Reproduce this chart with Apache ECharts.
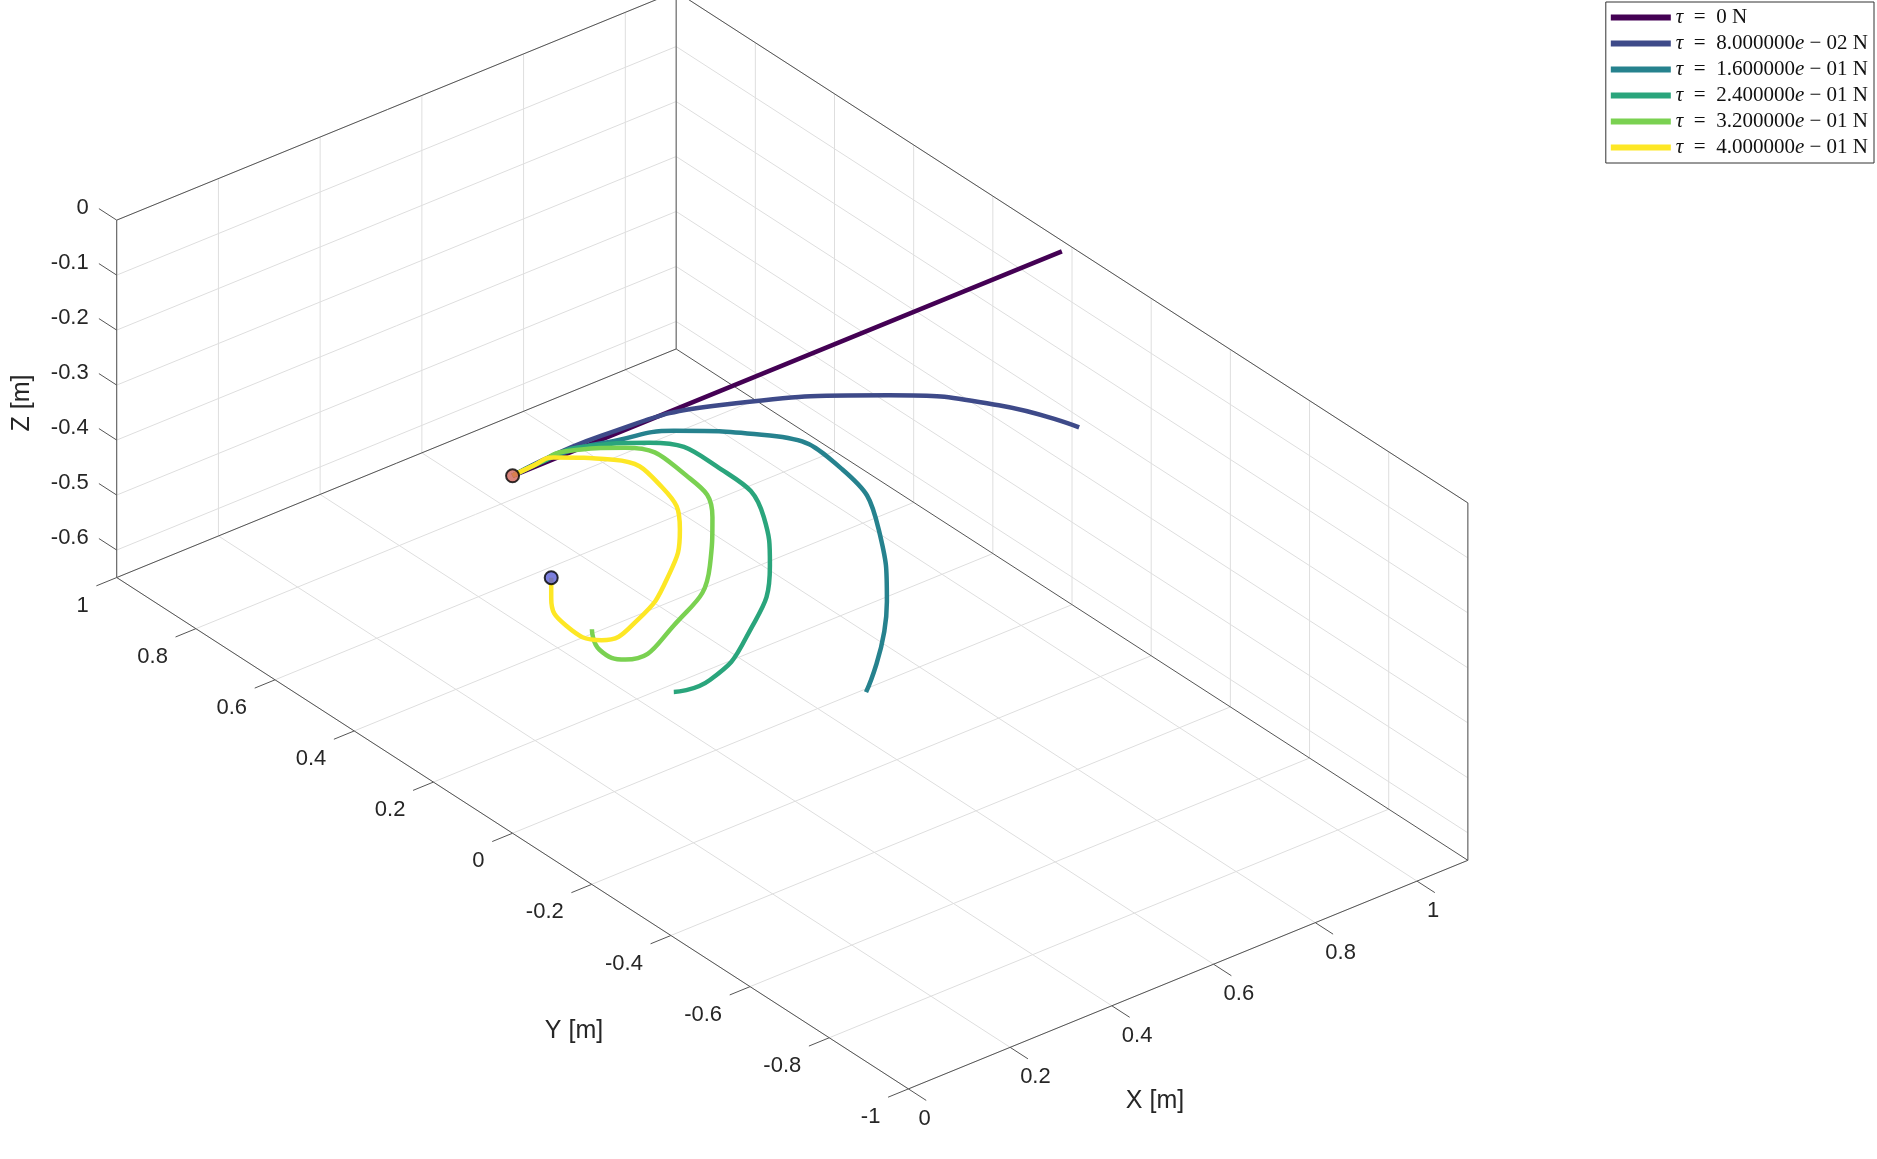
<!DOCTYPE html>
<html>
<head>
<meta charset="utf-8">
<script src="https://cdn.jsdelivr.net/npm/echarts@6/dist/echarts.min.js"></script>
<style>html,body{margin:0;padding:0;background:#fff}#main{width:1877px;height:1159px}</style>
</head>
<body>
<div id="main"></div>
<script>
// curve data: [x, y, z] in metres
var names = ['τ0', 'τ1', 'τ2', 'τ3', 'τ4', 'τ5'];
var legendText = ['0', '8.000000{i|e} − 02', '1.600000{i|e} − 01', '2.400000{i|e} − 01', '3.200000{i|e} − 01', '4.000000{i|e} − 01'];
var colors = ['#440154', '#3e4a89', '#26828e', '#2aa57c', '#7ad151', '#fde725'];

var curve0 = [[0, 0, 0], [0.5, 0, 0], [1.08, 0, 0]];
var curve1 = [[0, 0, 0], [0.175, 0, 0.007], [0.41, 0, -0.026], [0.74, 0, -0.133], [0.956, 0, -0.233], [1.114, 0, -0.333]];
var curve2 = [[0, 0, 0], [0.1, 0, 0.004], [0.2, 0, -0.012], [0.317, 0, -0.038], [0.506, 0, -0.118], [0.648, 0, -0.233], [0.72, 0, -0.37], [0.736, 0, -0.507], [0.695, 0, -0.656]];
var curve3 = [[0, 0, 0], [0.07, 0, 0.004], [0.128, 0, 0.003], [0.27, 0, -0.042], [0.411, 0, -0.144], [0.494, 0, -0.262], [0.506, 0, -0.354], [0.459, 0, -0.468], [0.388, 0, -0.518], [0.317, 0, -0.513]];
var curve4 = [[0, 0, 0], [0.05, 0, 0.004], [0.105, 0, 0.005], [0.222, 0, -0.033], [0.341, 0, -0.128], [0.393, 0, -0.224], [0.388, 0, -0.31], [0.317, 0, -0.392], [0.222, 0, -0.418], [0.171, 0, -0.381], [0.156, 0, -0.338]];
var curve5 = [[0, 0, 0], [0.04, 0, 0.003], [0.08, 0, 0.003], [0.199, 0, -0.046], [0.294, 0, -0.132], [0.329, 0, -0.222], [0.305, 0, -0.30], [0.246, 0, -0.355], [0.175, 0, -0.365], [0.105, 0, -0.312], [0.076, 0, -0.251], [0.076, 0, -0.214]];
var curves = [curve0, curve1, curve2, curve3, curve4, curve5];
var startPoint = [0, 0, 0];
var endPoint = [0.076, 0, -0.214];

var xTicks = [0, 0.2, 0.4, 0.6, 0.8, 1];
var yTicks = [-1, -0.8, -0.6, -0.4, -0.2, 0, 0.2, 0.4, 0.6, 0.8, 1];
var zTicks = [-0.6, -0.5, -0.4, -0.3, -0.2, -0.1, 0];
var xMax = 1.1, yMin = -1, yMax = 1, zMin = -0.65, zMax = 0;

var S = 1877 / 1560;
function proj(x, y, z) {
  return [(755 + 422.7 * x - 329 * (y + 1)) * S,
          (905 - 172.7 * x - 212.5 * (y + 1) - 457 * (z - zMin)) * S];
}
function seg(a, b, stroke, w) {
  var p = proj(a[0], a[1], a[2]), q = proj(b[0], b[1], b[2]);
  return {type: 'line', silent: true, z: 0,
    shape: {x1: p[0], y1: p[1], x2: q[0], y2: q[1]},
    style: {stroke: stroke, lineWidth: w}};
}
function txt(p, dx, dy, s, align, size, rot) {
  return {type: 'text', silent: true, x: p[0] + dx, y: p[1] + dy, rotation: rot || 0,
    style: {text: s, align: align, verticalAlign: 'middle', fontSize: size,
      fontFamily: 'Liberation Sans, Arial', fill: '#262626'}};
}

var g = [];
var gc = '#dedede', bc = '#555';
// grid lines
xTicks.forEach(function (x) {
  g.push(seg([x, yMin, zMin], [x, yMax, zMin], gc, 1));
  g.push(seg([x, yMax, zMin], [x, yMax, zMax], gc, 1));
});
yTicks.forEach(function (y) {
  g.push(seg([0, y, zMin], [xMax, y, zMin], gc, 1));
  g.push(seg([xMax, y, zMin], [xMax, y, zMax], gc, 1));
});
zTicks.forEach(function (z) {
  g.push(seg([0, yMax, z], [xMax, yMax, z], gc, 1));
  g.push(seg([xMax, yMax, z], [xMax, yMin, z], gc, 1));
});
// box edges
[[[0, yMax, zMin], [0, yMax, zMax]], [[xMax, yMax, zMin], [xMax, yMax, zMax]], [[xMax, yMin, zMin], [xMax, yMin, zMax]],
 [[0, yMax, zMax], [xMax, yMax, zMax]], [[xMax, yMax, zMax], [xMax, yMin, zMax]],
 [[0, yMax, zMin], [xMax, yMax, zMin]], [[xMax, yMax, zMin], [xMax, yMin, zMin]],
 [[0, yMax, zMin], [0, yMin, zMin]], [[0, yMin, zMin], [xMax, yMin, zMin]]].forEach(function (e) {
  g.push(seg(e[0], e[1], bc, 1));
});
// ticks and labels
xTicks.forEach(function (x) {
  g.push(seg([x, yMin, zMin], [x, yMin - 0.045, zMin], bc, 1));
  g.push(txt(proj(x, yMin, zMin), 10, 30, String(x), 'left', 22));
});
yTicks.forEach(function (y) {
  g.push(seg([0, y, zMin], [-0.04, y, zMin], bc, 1));
  g.push(txt(proj(0, y, zMin), -28, 28, String(y), 'right', 22));
});
zTicks.forEach(function (z) {
  g.push(seg([0, yMax, z], [0, yMax + 0.045, z], bc, 1));
  g.push(txt(proj(0, yMax, z), -28, -12, String(z), 'right', 22));
});
g.push(txt([22, 403], 0, 0, 'Z [m]', 'center', 25, Math.PI / 2));
g.push(txt([574, 1031], 0, 0, 'Y [m]', 'center', 25));
g.push(txt([1155, 1101], 0, 0, 'X [m]', 'center', 25));

var series = curves.map(function (c, i) {
  return {name: names[i], type: 'line', z: 3, symbol: 'none', smooth: 0.5,
    lineStyle: {color: colors[i], width: 4.5}, itemStyle: {color: colors[i]},
    data: c.map(function (p) { return proj(p[0], p[1], p[2]); })};
});
series.push({type: 'scatter', z: 5, symbolSize: 13,
  itemStyle: {color: '#d0645a', borderColor: '#000', borderWidth: 2},
  data: [proj(startPoint[0], startPoint[1], startPoint[2])]});
series.push({type: 'scatter', z: 5, symbolSize: 13,
  itemStyle: {color: '#5b5fd6', borderColor: '#000', borderWidth: 2},
  data: [proj(endPoint[0], endPoint[1], endPoint[2])]});

var chart = echarts.init(document.getElementById('main'));
chart.setOption({
  animation: false,
  grid: {left: 0, right: 0, top: 0, bottom: 0},
  xAxis: {type: 'value', min: 0, max: 1877, show: false},
  yAxis: {type: 'value', min: 0, max: 1159, inverse: true, show: false},
  legend: {
    data: names, orient: 'vertical', right: 3, top: 2, padding: [5, 6, 5, 5],
    itemGap: 5, itemWidth: 60, itemHeight: 6, icon: 'rect',
    backgroundColor: '#fff', borderColor: '#333', borderWidth: 1, borderRadius: 0,
    textStyle: {fontFamily: 'Liberation Serif, DejaVu Serif', fontSize: 21, color: '#111',
      rich: {i: {fontStyle: 'italic', fontFamily: 'Liberation Serif', fontSize: 21}}},
    formatter: function (n) {
      var i = names.indexOf(n);
      return '{i|τ}  =  ' + legendText[i] + ' N';
    }
  },
  graphic: {elements: g},
  series: series
});
</script>
</body>
</html>
